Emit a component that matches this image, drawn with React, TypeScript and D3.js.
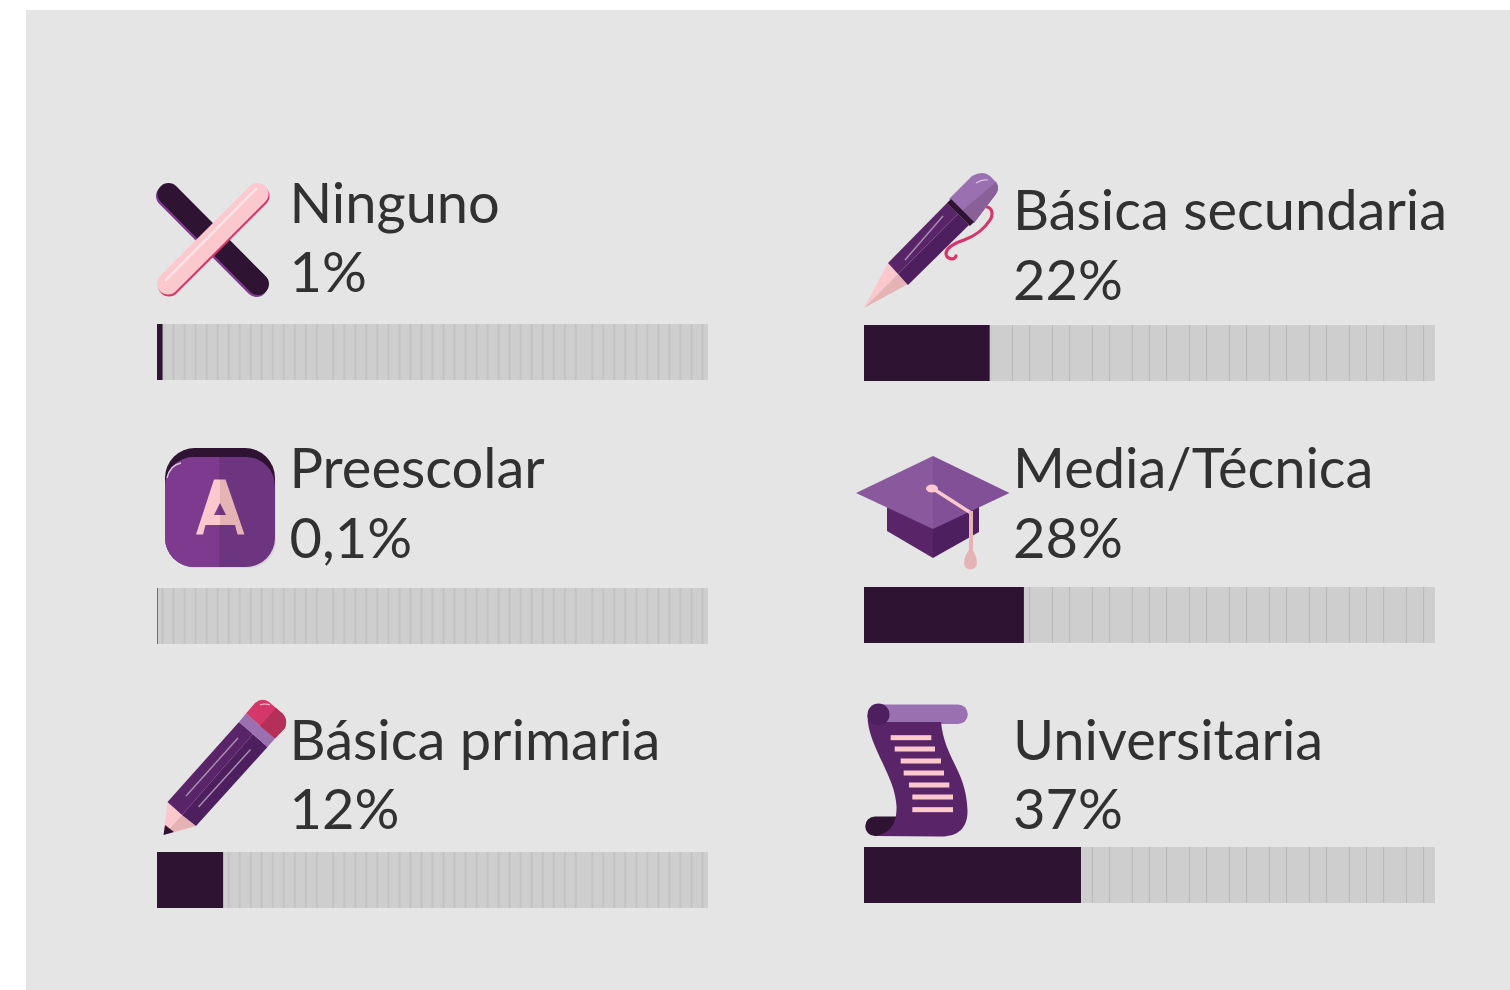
import React from "react";
import * as d3 from "d3";

const categories = ["Ninguno", "Preescolar", "Básica primaria", "Básica secundaria", "Media/Técnica", "Universitaria"];
const valueLabels = ["1%", "0,1%", "12%", "22%", "28%", "37%"];
const barValues = [1, 0.1, 12, 22, 28, 38];
const ticksLeft = [1, 3, 5, 7, 9, 11, 13, 15, 17, 19, 21, 23, 25, 27, 29, 32, 34, 36, 38, 40, 42, 44, 46, 48, 50, 52, 54, 56, 58, 60, 62, 64, 66, 68, 70, 72, 74, 76, 79, 81, 83, 85, 87, 89, 91, 93, 95, 97, 99];
const ticksRight = [2, 5, 9, 12, 16, 19, 22, 26, 29, 33, 36, 40, 43, 47, 50, 53, 57, 60, 64, 67, 71, 74, 78, 81, 85, 88, 91, 95, 98];

const DARK = "#2f1332";
const PINK = "#fbc9cd";
const PINK2 = "#e6b3b5";
const ROSE = "#d5376a";
const P1 = "#5a2568";
const P2 = "#4e1f5e";

const layout = [
  { x0: 157, x1: 708, barY: 324, textX: 289.5, nameY: 223, valY: 292 },
  { x0: 157, x1: 708, barY: 588, textX: 289.5, nameY: 488, valY: 557.5 },
  { x0: 157, x1: 708, barY: 852, textX: 289.5, nameY: 760, valY: 829 },
  { x0: 864, x1: 1435, barY: 325, textX: 1013, nameY: 230, valY: 299.5 },
  { x0: 864, x1: 1435, barY: 587, textX: 1013, nameY: 488, valY: 557.5 },
  { x0: 864, x1: 1435, barY: 847, textX: 1013, nameY: 760, valY: 829 },
];

function XIcon() {
  return (
    <g fill="none" strokeLinecap="round">
      <line x1={167} y1={196} x2={256.5} y2={286} stroke="#7b3a8d" strokeWidth={22} />
      <line x1={168.5} y1={194} x2={258} y2={284} stroke={DARK} strokeWidth={22} />
      <line x1={169} y1={285.5} x2={258.5} y2={196} stroke={ROSE} strokeWidth={22} />
      <line x1={168} y1={283.5} x2={257.5} y2={194} stroke={PINK} strokeWidth={22} />
      <line x1={166} y1={280} x2={256} y2={189} stroke="#fde3e5" strokeWidth={2.5} />
    </g>
  );
}

function PenIcon() {
  return (
    <g>
      <path d="M987 207 C993 208 993 216 990 220 C985 228 975 236 964 240 C955 243 947 247 946 253 C946 259 954 261 956 256" fill="none" stroke={ROSE} strokeWidth={3.2} strokeLinecap="round" />
      <path d="M864 308 L888 263 L898 274 Z" fill={PINK} />
      <path d="M864 308 L898 274 L908 284 Z" fill={PINK2} />
      <path d="M888 263 L947 203 L958 214 L898 274 Z" fill={P1} />
      <path d="M898 274 L958 214 L969 225 L908 285 Z" fill={P2} />
      <path d="M949 199 L972 176 Q983 170 990 176 L996 182 Q1000 188 996 194 L974 223 Z" fill="#9a70b0" />
      <path d="M962 211 L996 182 Q1000 188 996 194 L974 223 Z" fill="#8a6099" />
      <path d="M949 201 L972 224" stroke={DARK} strokeWidth={6} />
      <path d="M976 183 Q982 179 988 180" fill="none" stroke="#d9c7e2" strokeWidth={1.2} />
      <path d="M905 260 L943 216" stroke="#a58db0" strokeWidth={1.5} />
    </g>
  );
}

function SlateIcon() {
  return (
    <g>
      <rect x={168} y={458} width={108} height={110} rx={27} fill="#d6d6d6" />
      <rect x={165} y={448} width={110} height={90} rx={30} fill={DARK} />
      <rect x={165} y={457} width={110} height={110} rx={29} fill="#6d3480" />
      <path d="M219 457 H194 A29 29 0 0 0 165 486 V538 A29 29 0 0 0 194 567 H219 Z" fill="#7d3a8e" />
      <path d="M167 478 Q170 465 181 463" fill="none" stroke="#d9c7e2" strokeWidth={1.3} />
      <path d="M214 479.5 L220 479.5 L220 503 L214 515 L220 515 L220 525 L205.5 525 L203 534.5 L196 534.5 Z" fill={PINK} />
      <path d="M220 479.5 L225.5 479.5 L244.5 534.5 L237.5 534.5 L235 525 L220 525 L220 515 L226 515 L220 503 Z" fill={PINK2} />
    </g>
  );
}

function CapIcon() {
  return (
    <g>
      <path d="M887 506 V531 L933 558 V520 Z" fill={P1} />
      <path d="M979 506 V532 L933 558 V520 Z" fill={P2} />
      <path d="M856 493 L933 456 V529 Z" fill="#8a589c" />
      <path d="M1009.5 493 L933 456 V529 Z" fill="#815096" />
      <path d="M932 488 L971 513" stroke={PINK} strokeWidth={3.5} />
      <ellipse cx={932} cy={488.5} rx={6} ry={4} fill={PINK} />
      <path d="M971 511 V550" stroke={PINK2} strokeWidth={4} />
      <path d="M971 547 Q964 556 964 563 A6.3 6.3 0 0 0 977 563 Q977 556 971 547 Z" fill={PINK2} />
    </g>
  );
}

function PencilIcon() {
  return (
    <g>
      <path d="M163.5 835 L167.5 802 L182 815 Z" fill={PINK} />
      <path d="M163.5 835 L182 815 L196 826 Z" fill={PINK2} />
      <path d="M163.5 835 L165 825 L174 832 Z" fill={DARK} />
      <path d="M167.5 802 L239 722 L253 734 L182 815 Z" fill={P1} />
      <path d="M182 815 L253 734 L267.5 747 L196 826 Z" fill={P2} />
      <path d="M239 722 L246 713.5 L275 738.5 L267.5 747 Z" fill="#9a70b0" />
      <path d="M246 713.5 L255 703 Q262 697 269 702 L283 714 Q288 720 285 728 L275 738.5 Z" fill={ROSE} />
      <path d="M260 726 L276 708 L283 714 Q288 720 285 728 L275 738.5 Z" fill="#b53058" />
      <path d="M260 705 Q265 703 270 705" fill="none" stroke="#f3c5d4" strokeWidth={1.2} />
      <path d="M186 796 L238 738 M198.5 807 L250.5 749.5" stroke="#a58db0" strokeWidth={1.5} />
    </g>
  );
}

const scrollLines: [number, number, number][] = [
  [107, 229, 128], [119, 240, 162], [137, 258, 198], [146, 267, 234], [162, 283, 270], [172, 294, 306], [172, 294, 344],
];

function ScrollIcon() {
  return (
    <g>
      <path d="M880 704.5 H958 A9.7 9.7 0 0 1 958 724 H880 Z" fill="#9a70b0" />
      <path d="M900 816.5 H875 A9.7 9.7 0 0 0 875 836 H900 Z" fill={DARK} />
      <path d="M867.5 715 C867 745 895 775 896.5 806 C897 825 890 833 876 836 L940 836.5 C958 837 968 828 967.5 810 C966 770 945 760 941 722 L880 722 Z" fill={P1} />
      <circle cx={878.5} cy={714.5} r={11} fill={P2} />
      {scrollLines.map(([a, b, y], i) => (
        <rect key={i} x={855 + a / 3} y={692.5 + y / 3} width={(b - a) / 3} height={5} fill={PINK} />
      ))}
    </g>
  );
}

const icons = [XIcon, SlateIcon, PencilIcon, PenIcon, CapIcon, ScrollIcon];

export default function App() {
  const barH = 56;
  return (
    <svg width={1510} height={990} style={{ position: "absolute", left: 0, top: 0, background: "#fff" }} fontFamily="Lato, sans-serif">
      <rect x={26} y={10} width={1484} height={980} fill="#e5e5e5" />
      {categories.map((name, i) => {
        const l = layout[i];
        const x = d3.scaleLinear().domain([0, 100]).range([l.x0, l.x1]);
        const ticks = i < 3 ? ticksLeft : ticksRight;
        const Icon = icons[i];
        return (
          <g key={name}>
            <Icon />
            <text x={l.textX} y={l.nameY} fontSize={56} fill="#313131">{name}</text>
            <text x={l.textX} y={l.valY} fontSize={56} fill="#313131">{valueLabels[i]}</text>
            <rect x={x(0)} y={l.barY} width={x(100) - x(0)} height={barH} fill="#cecece" />
            {ticks.map((t) => (
              <line key={t} x1={x(t)} x2={x(t)} y1={l.barY} y2={l.barY + barH} stroke={i < 3 ? "#c2c2c2" : "#bababa"} strokeWidth={i < 3 ? 1.8 : 1.1} />
            ))}
            <rect x={x(0)} y={l.barY} width={x(barValues[i]) - x(0)} height={barH} fill={DARK} />
          </g>
        );
      })}
    </svg>
  );
}
